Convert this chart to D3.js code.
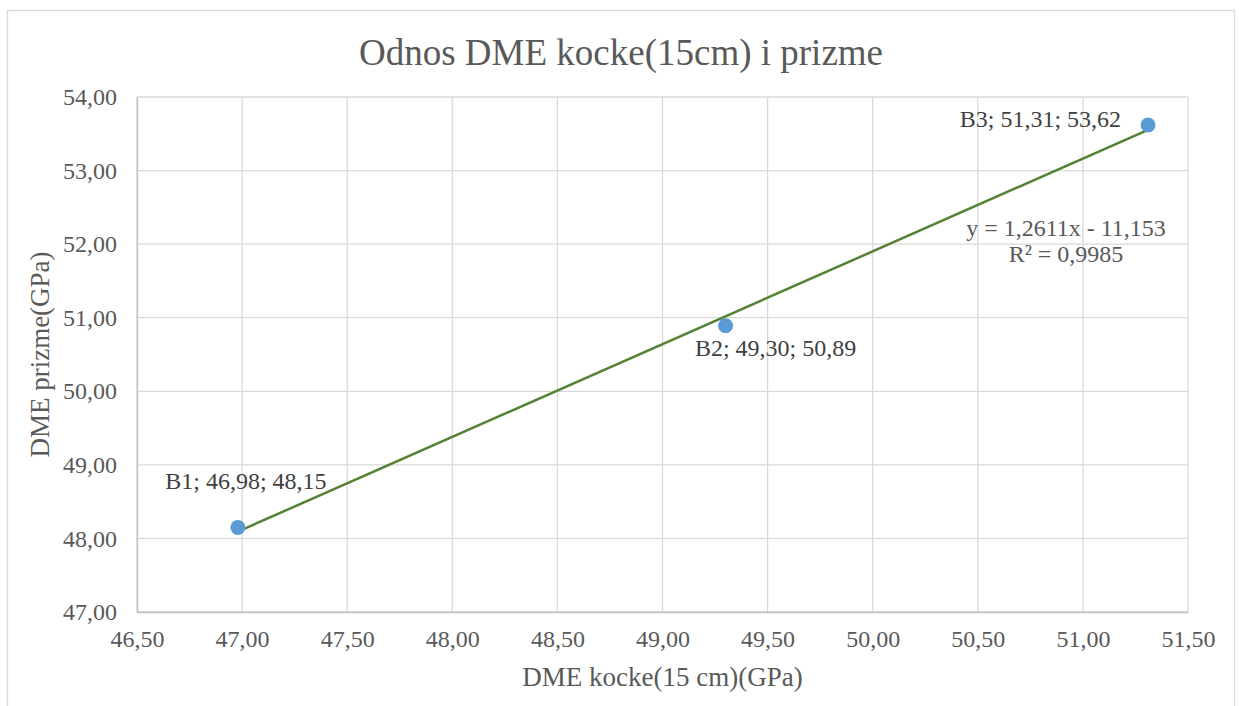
<!DOCTYPE html>
<html>
<head>
<meta charset="utf-8">
<script src="https://cdn.jsdelivr.net/npm/d3@7"></script>
<style>
  html, body { margin: 0; padding: 0; background: #fff; }
  svg { display: block; }
  svg text { font-family: "Liberation Serif", "Times New Roman", serif !important; }
</style>
</head>
<body>
<svg id="chart" width="1239" height="706"></svg>
<script>
// ---- data ----
const pointNames = ["B1", "B2", "B3"];
const xValues = [46.98, 49.30, 51.31];
const yValues = [48.15, 50.89, 53.62];
const xTicks = [46.5, 47.0, 47.5, 48.0, 48.5, 49.0, 49.5, 50.0, 50.5, 51.0, 51.5];
const yTicks = [47, 48, 49, 50, 51, 52, 53, 54];
const trendSlope = 1.2611;
const trendIntercept = -11.153;
const trendEquation = "y = 1,2611x - 11,153";
const trendR2 = "R² = 0,9985";
const titleText = "Odnos DME kocke(15cm) i prizme";
const xTitle = "DME kocke(15 cm)(GPa)";
const yTitle = "DME prizme(GPa)";

// ---- layout ----
const W = 1239, H = 706;
const plot = { left: 137, right: 1188, top: 97, bottom: 612 };
const labelLayout = [
  { dx: 8, dy: -38, anchor: "middle" },
  { dx: 50, dy: 30, anchor: "middle" },
  { dx: -27, dy: 2, anchor: "end" }
];
const textColor = "#595959";
const gridColor = "#d9d9d9";
const serif = "'Liberation Serif', 'Times New Roman', serif";

const fmt = v => d3.format(".2f")(v).replace(".", ",");

const svg = d3.select("#chart");

// chart border
svg.append("rect")
  .attr("x", 7.5).attr("y", 10.5)
  .attr("width", 1227).attr("height", 720)
  .attr("fill", "#fff").attr("stroke", gridColor).attr("stroke-width", 1.3);

const x = d3.scaleLinear().domain([46.5, 51.5]).range([plot.left, plot.right]);
const y = d3.scaleLinear().domain([47, 54]).range([plot.bottom, plot.top]);

// gridlines
const g = svg.append("g");
g.selectAll("line.vg").data(xTicks).join("line")
  .attr("x1", d => x(d)).attr("x2", d => x(d))
  .attr("y1", plot.top).attr("y2", plot.bottom)
  .attr("stroke", gridColor).attr("stroke-width", 1.3);
g.selectAll("line.hg").data(yTicks).join("line")
  .attr("x1", plot.left).attr("x2", plot.right)
  .attr("y1", d => y(d)).attr("y2", d => y(d))
  .attr("stroke", gridColor).attr("stroke-width", 1.3);

// axes
const xAxis = d3.axisBottom(x).tickValues(xTicks).tickFormat(fmt).tickSize(0).tickPadding(18);
const gx = svg.append("g").attr("transform", `translate(0,${plot.bottom})`).call(xAxis)
  .attr("font-family", serif).attr("font-size", 24);
gx.select(".domain").attr("stroke", "#bfbfbf").attr("stroke-width", 1.3);
gx.selectAll("text").attr("fill", textColor);

const yAxis = d3.axisLeft(y).tickValues(yTicks).tickFormat(fmt).tickSize(0).tickPadding(20);
const gy = svg.append("g").attr("transform", `translate(${plot.left},0)`).call(yAxis)
  .attr("font-family", serif).attr("font-size", 24);
gy.select(".domain").attr("stroke", "#bfbfbf").attr("stroke-width", 1.3);
gy.selectAll("text").attr("fill", textColor);

// trendline
const xMin = d3.min(xValues), xMax = d3.max(xValues);
svg.append("line")
  .attr("x1", x(xMin)).attr("y1", y(trendSlope * xMin + trendIntercept))
  .attr("x2", x(xMax)).attr("y2", y(trendSlope * xMax + trendIntercept))
  .attr("stroke", "#548235").attr("stroke-width", 2.5);

// points
const data = pointNames.map((n, i) => ({ name: n, x: xValues[i], y: yValues[i], lay: labelLayout[i] }));
svg.selectAll("circle.pt").data(data).join("circle")
  .attr("cx", d => x(d.x)).attr("cy", d => y(d.y)).attr("r", 7.5)
  .attr("fill", "#5b9bd5");

// data labels
svg.selectAll("text.lbl").data(data).join("text")
  .attr("x", d => x(d.x) + d.lay.dx).attr("y", d => y(d.y) + d.lay.dy)
  .attr("text-anchor", d => d.lay.anchor)
  .attr("font-family", serif).attr("font-size", 24)
  .attr("fill", "#404040")
  .text(d => `${d.name}; ${fmt(d.x)}; ${fmt(d.y)}`);

// trend equation
svg.append("text").attr("x", 1066).attr("y", 236).attr("text-anchor", "middle")
  .attr("font-family", serif).attr("font-size", 24)
  .attr("fill", textColor).text(trendEquation);
svg.append("text").attr("x", 1066).attr("y", 262).attr("text-anchor", "middle")
  .attr("font-family", serif).attr("font-size", 24)
  .attr("fill", textColor).text(trendR2);

// title
svg.append("text").attr("x", 621).attr("y", 65).attr("text-anchor", "middle")
  .attr("font-family", serif).attr("font-size", 37)
  .attr("fill", textColor).text(titleText);

// axis titles
svg.append("text").attr("x", (plot.left + plot.right) / 2).attr("y", 686)
  .attr("text-anchor", "middle").attr("font-family", serif).attr("font-size", 27)
  .attr("fill", textColor).text(xTitle);
svg.append("text").attr("transform", `translate(49,${(plot.top + plot.bottom) / 2}) rotate(-90)`)
  .attr("text-anchor", "middle").attr("font-family", serif).attr("font-size", 27)
  .attr("fill", textColor).text(yTitle);
</script>
</body>
</html>
